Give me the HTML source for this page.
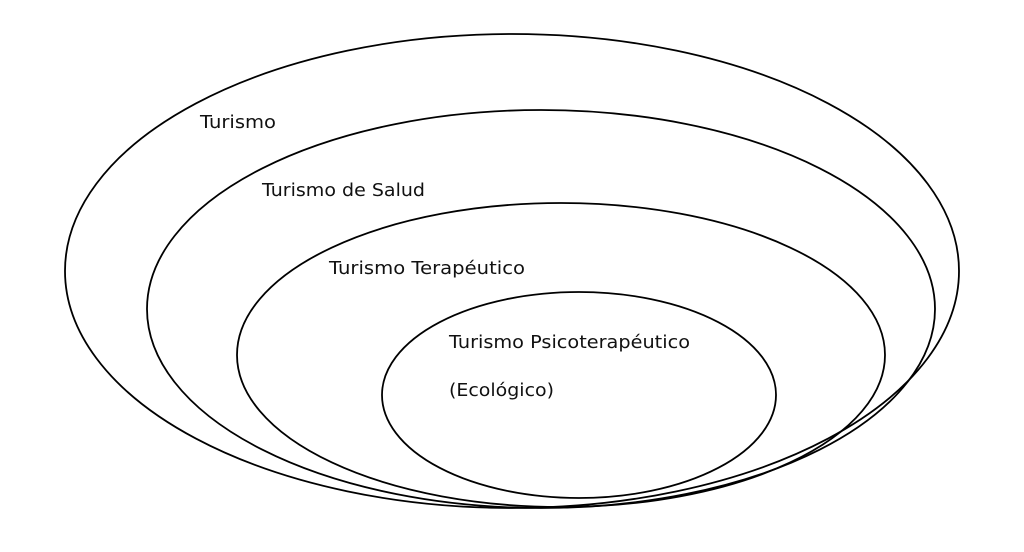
<!DOCTYPE html>
<html><head><meta charset="utf-8"><style>html,body{margin:0;padding:0;background:#fff}</style></head>
<body>
<svg width="1024" height="547" viewBox="0 0 1024 547" xmlns="http://www.w3.org/2000/svg">
<g fill="none" stroke="#000" stroke-width="1.8">
<ellipse cx="512" cy="271" rx="447" ry="237"/>
<ellipse cx="541" cy="309" rx="394" ry="199"/>
<ellipse cx="561" cy="355" rx="324" ry="152"/>
<ellipse cx="579" cy="395" rx="197" ry="103"/>
</g>
<g font-family="DejaVu Sans, Liberation Sans, sans-serif" font-size="18" fill="#111">
<text x="200" y="128" textLength="76" lengthAdjust="spacingAndGlyphs">Turismo</text>
<text x="262" y="196" textLength="163" lengthAdjust="spacingAndGlyphs">Turismo de Salud</text>
<text x="329" y="274" textLength="196" lengthAdjust="spacingAndGlyphs">Turismo Terapéutico</text>
<text x="449" y="348" textLength="241" lengthAdjust="spacingAndGlyphs">Turismo Psicoterapéutico</text>
<text x="449" y="396" textLength="105" lengthAdjust="spacingAndGlyphs">(Ecológico)</text>
</g>
</svg>
</body></html>
